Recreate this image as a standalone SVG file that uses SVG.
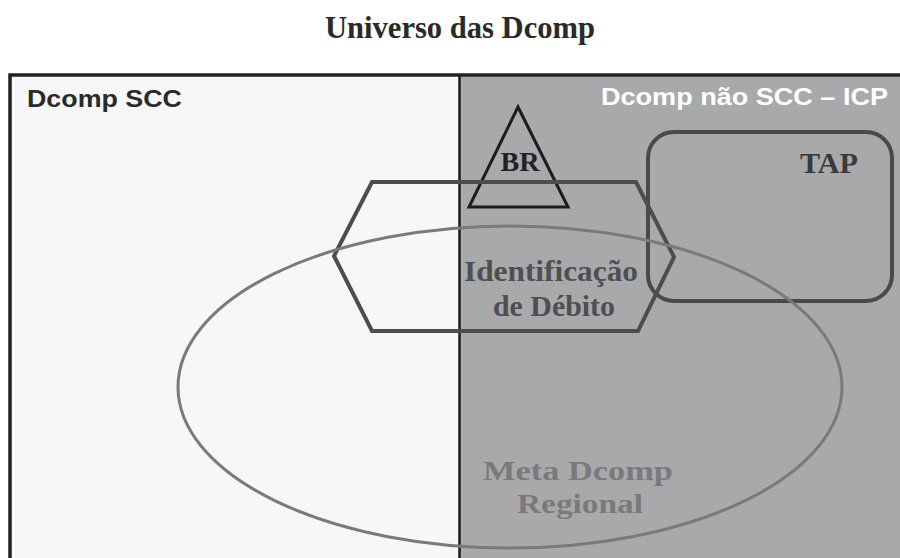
<svg xmlns="http://www.w3.org/2000/svg" width="900" height="558" viewBox="0 0 900 558">
  <style>
    .serif { font-family: "Liberation Serif", "Times New Roman", serif; font-weight: bold; }
    .sans { font-family: "Liberation Sans", Arial, sans-serif; font-weight: bold; }
    .shape { fill: none; stroke-linejoin: miter; }
  </style>
  <rect x="0" y="0" width="900" height="558" fill="#ffffff"/>
  <text class="serif" x="460" y="38" font-size="31" text-anchor="middle" fill="#2a2a2a" textLength="270" lengthAdjust="spacingAndGlyphs">Universo das Dcomp</text>

  <g id="regions">
    <rect x="10" y="75" width="449" height="483" fill="#f7f7f7"/>
    <rect x="459" y="75" width="441" height="483" fill="#a8a9ab"/>
    <path d="M10,558 V75 H900" fill="none" stroke="#222222" stroke-width="3.5"/>
    <line x1="459.5" y1="75" x2="459.5" y2="558" stroke="#1a1a1a" stroke-width="2.5"/>
    <text class="sans" x="27" y="107" font-size="24" fill="#2a2a2a" textLength="155" lengthAdjust="spacingAndGlyphs">Dcomp SCC</text>
    <text class="sans" x="601" y="105" font-size="24" fill="#ffffff" textLength="287" lengthAdjust="spacingAndGlyphs">Dcomp não SCC – ICP</text>
  </g>

  <g id="connectors"></g>

  <g id="br">
    <polygon class="shape" points="518,107 469,207 568,207" stroke="#1c1c1c" stroke-width="3"/>
    <text class="serif" x="520" y="171" font-size="27" text-anchor="middle" fill="#222222" textLength="39" lengthAdjust="spacingAndGlyphs">BR</text>
  </g>

  <g id="tap">
    <rect class="shape" x="648" y="132" width="244" height="169" rx="26" ry="26" stroke="#4a4a4c" stroke-width="4"/>
    <text class="serif" x="829" y="173" font-size="30" text-anchor="middle" fill="#3a3a3a" textLength="58" lengthAdjust="spacingAndGlyphs">TAP</text>
  </g>

  <g id="identificacao">
    <polygon class="shape" points="372,182 636,182 674,257 638,331 372,331 334,256" stroke="#4d4d4f" stroke-width="4"/>
    <text class="serif" x="551" y="281" font-size="30" text-anchor="middle" fill="#4f4f51" textLength="174" lengthAdjust="spacingAndGlyphs">Identificação</text>
    <text class="serif" x="554" y="316" font-size="30" text-anchor="middle" fill="#4f4f51" textLength="122" lengthAdjust="spacingAndGlyphs">de Débito</text>
  </g>

  <g id="meta">
    <ellipse class="shape" cx="510" cy="387" rx="332" ry="161" stroke="#7a7a7c" stroke-width="3"/>
    <text class="serif" x="578" y="480" font-size="28" text-anchor="middle" fill="#7a7a7c" textLength="190" lengthAdjust="spacingAndGlyphs">Meta Dcomp</text>
    <text class="serif" x="580" y="513" font-size="28" text-anchor="middle" fill="#7a7a7c" textLength="126" lengthAdjust="spacingAndGlyphs">Regional</text>
  </g>
</svg>
